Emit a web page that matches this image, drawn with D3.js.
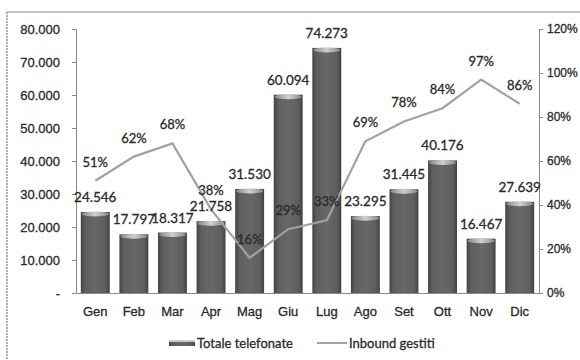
<!DOCTYPE html>
<html>
<head>
<meta charset="utf-8">
<script src="https://cdn.jsdelivr.net/npm/d3@7"></script>
<style>
  html, body { margin: 0; padding: 0; background: #fff; }
  svg { display: block; font-family: Lato, "Open Sans", sans-serif; }
  svg text { stroke: #2a2a2a; stroke-width: 0.3px; }
</style>
</head>
<body>
<svg id="chart" width="580" height="360"></svg>
<script>
// Monthly calls and share of inbound calls handled
const months = ["Gen", "Feb", "Mar", "Apr", "Mag", "Giu", "Lug", "Ago", "Set", "Ott", "Nov", "Dic"];
const totaleTelefonate = [24546, 17797, 18317, 21758, 31530, 60094, 74273, 23295, 31445, 40176, 16467, 27639];
const inboundGestiti = [51, 62, 68, 38, 16, 29, 33, 69, 78, 84, 97, 86];
const leftTicks = [0, 10000, 20000, 30000, 40000, 50000, 60000, 70000, 80000];
const rightTicks = [0, 20, 40, 60, 80, 100, 120];

const svg = d3.select("#chart");
const plot = { left: 76, right: 539, top: 29, bottom: 293 };

const x = d3.scaleBand().domain(months).range([plot.left, plot.right]).paddingInner(0.25).paddingOuter(0.125);
const yL = d3.scaleLinear().domain([0, 80000]).range([plot.bottom, plot.top]);
const yR = d3.scaleLinear().domain([0, 120]).range([plot.bottom, plot.top]);

const itNum = d3.formatLocale({ decimal: ",", thousands: ".", grouping: [3], currency: ["€", ""] }).format(",d");

// Frame around the chart
svg.append("line").attr("x1", 7).attr("x2", 580).attr("y1", 12).attr("y2", 12)
  .attr("stroke", "#8a8a8a").attr("stroke-width", 1.2);
svg.append("line").attr("x1", 7).attr("x2", 7).attr("y1", 12).attr("y2", 360)
  .attr("stroke", "#9a9a9a").attr("stroke-width", 1.5).attr("stroke-dasharray", "2,1");

// Bar gradients: dark cylinder body with a light cap
const defs = svg.append("defs");
const g1 = defs.append("linearGradient").attr("id", "barGrad").attr("x1", "0").attr("x2", "1");
g1.append("stop").attr("offset", "0").attr("stop-color", "#444");
g1.append("stop").attr("offset", "0.15").attr("stop-color", "#5e5e5e");
g1.append("stop").attr("offset", "0.5").attr("stop-color", "#686868");
g1.append("stop").attr("offset", "0.85").attr("stop-color", "#5e5e5e");
g1.append("stop").attr("offset", "1").attr("stop-color", "#424242");
const g2 = defs.append("linearGradient").attr("id", "capGrad").attr("x1", "0").attr("x2", "1");
g2.append("stop").attr("offset", "0").attr("stop-color", "#8a8a8a");
g2.append("stop").attr("offset", "0.5").attr("stop-color", "#d0d0d0");
g2.append("stop").attr("offset", "1").attr("stop-color", "#8a8a8a");

// Axes
const axisColor = "#8a8a8a";
const textColor = "#2a2a2a";

const leftAxis = d3.axisLeft(yL).tickValues(leftTicks).tickSize(4).tickPadding(12)
  .tickFormat(d => d === 0 ? "-" : itNum(d));
svg.append("g").attr("transform", `translate(${plot.left},0)`).call(leftAxis)
  .call(g => g.select(".domain").attr("stroke", axisColor))
  .call(g => g.selectAll(".tick line").attr("stroke", axisColor))
  .call(g => g.selectAll("text").attr("fill", textColor).attr("font-size", 13));

const rightAxis = d3.axisRight(yR).tickValues(rightTicks).tickSize(4).tickPadding(4)
  .tickFormat(d => d + "%");
svg.append("g").attr("transform", `translate(${plot.right},0)`).call(rightAxis)
  .call(g => g.select(".domain").attr("stroke", axisColor))
  .call(g => g.selectAll(".tick line").attr("stroke", axisColor))
  .call(g => g.selectAll("text").attr("fill", textColor).attr("font-size", 12));

// Bars
const bars = svg.append("g");
months.forEach((m, i) => {
  const v = totaleTelefonate[i];
  const bx = x(m), bw = x.bandwidth(), top = yL(v);
  bars.append("rect").attr("x", bx).attr("y", top).attr("width", bw)
    .attr("height", plot.bottom - top).attr("fill", "url(#barGrad)");
  bars.append("ellipse").attr("cx", bx + bw / 2).attr("cy", top + 2).attr("rx", bw / 2 - 1).attr("ry", 2.5)
    .attr("fill", "url(#capGrad)");
});

// X axis baseline and labels
const xAxis = d3.axisBottom(x).tickSize(0).tickPadding(14);
svg.append("g").attr("transform", `translate(0,${plot.bottom})`).call(xAxis)
  .call(g => g.select(".domain").attr("stroke", axisColor).attr("stroke-width", 1.2))
  .call(g => g.selectAll("text").attr("fill", textColor).attr("font-size", 13));

// Line series
const line = d3.line().x((d, i) => x(months[i]) + x.bandwidth() / 2).y(d => yR(d));
svg.append("path").datum(inboundGestiti).attr("d", line)
  .attr("fill", "none").attr("stroke", "#a2a2a2").attr("stroke-width", 2.2);

// Bar value labels
svg.append("g").selectAll("text").data(totaleTelefonate).join("text")
  .attr("x", (d, i) => x(months[i]) + x.bandwidth() / 2)
  .attr("y", d => yL(d) - 10)
  .attr("text-anchor", "middle").attr("font-size", 13.5).attr("fill", textColor)
  .text(d => itNum(d));

// Percentage labels
svg.append("g").selectAll("text").data(inboundGestiti).join("text")
  .attr("x", (d, i) => x(months[i]) + x.bandwidth() / 2)
  .attr("y", d => yR(d) - 14)
  .attr("text-anchor", "middle").attr("font-size", 13).attr("fill", textColor)
  .text(d => d + "%");

// Legend
const lg = svg.append("g").attr("transform", "translate(0,343)");
lg.append("rect").attr("x", 169).attr("y", -3).attr("width", 26).attr("height", 6).attr("fill", "url(#barGrad)");
lg.append("rect").attr("x", 169).attr("y", -3).attr("width", 26).attr("height", 2).attr("fill", "#c8c8c8");
lg.append("text").attr("x", 197).attr("y", 4.5).attr("font-size", 13).attr("fill", textColor).text("Totale telefonate");
lg.append("line").attr("x1", 317).attr("x2", 347).attr("y1", 0).attr("y2", 0).attr("stroke", "#a2a2a2").attr("stroke-width", 2);
lg.append("text").attr("x", 349).attr("y", 4.5).attr("font-size", 13).attr("fill", textColor).text("Inbound gestiti");
</script>
</body>
</html>
